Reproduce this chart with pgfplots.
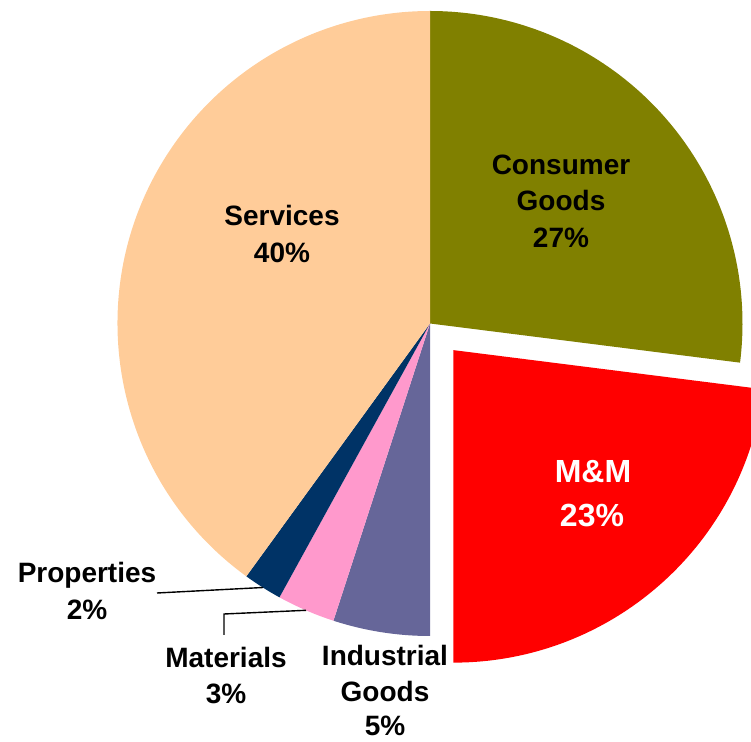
\documentclass[border=0pt]{standalone}
\usepackage{pgfplots}
\pgfplotsset{compat=1.18}
\usepackage{pgfplotstable}
\usepackage{fontspec}
\setmainfont{Liberation Sans}
\definecolor{cgoods}{HTML}{808000}
\definecolor{mm}{HTML}{FF0000}
\definecolor{igoods}{HTML}{666699}
\definecolor{mats}{HTML}{FF99CC}
\definecolor{props}{HTML}{003366}
\definecolor{servs}{HTML}{FFCC99}
\tikzset{
  lbl/.style={inner sep=0pt, outer sep=0pt, anchor=base, font=\fontsize{28}{34}\selectfont\bfseries},
  lblw/.style={inner sep=0pt, outer sep=0pt, anchor=base, text=white, font=\fontsize{32}{38}\selectfont\bfseries},
}
\pgfplotstableread{
name share
Consumer 27
MM 23
Industrial 5
Materials 3
Properties 2
Services 40
}\sharetable
\begin{document}
\begin{tikzpicture}
\pgfplotstablegetelem{0}{share}\of\sharetable \let\sA\pgfplotsretval
\pgfplotstablegetelem{1}{share}\of\sharetable \let\sB\pgfplotsretval
\pgfplotstablegetelem{2}{share}\of\sharetable \let\sC\pgfplotsretval
\pgfplotstablegetelem{3}{share}\of\sharetable \let\sD\pgfplotsretval
\pgfplotstablegetelem{4}{share}\of\sharetable \let\sE\pgfplotsretval
\pgfplotstablegetelem{5}{share}\of\sharetable \let\sF\pgfplotsretval
\pgfmathsetmacro\aA{90}
\pgfmathsetmacro\aB{\aA-3.6*\sA}
\pgfmathsetmacro\aC{\aB-3.6*\sB}
\pgfmathsetmacro\aD{\aC-3.6*\sC}
\pgfmathsetmacro\aE{\aD-3.6*\sD}
\pgfmathsetmacro\aF{\aE-3.6*\sE}
\pgfmathsetmacro\aG{\aF-3.6*\sF}
\pgfmathsetmacro\aMid{(\aB+\aC)/2}
\def\R{312.5pt}
\begin{axis}[
  at={(0,0)}, anchor=south west,
  width=751pt, height=741pt, scale only axis,
  xmin=0, xmax=751, ymin=0, ymax=741,
  hide axis, clip=true,
]
% slices
\fill[cgoods] (axis cs:430,417.5) -- ++(\aA:\R) arc[start angle=\aA, end angle=\aB, radius=\R] -- cycle;
\fill[mm] ([shift={(\aMid:35.5pt)}]axis cs:430,417.5) -- ++(\aB:\R) arc[start angle=\aB, end angle=\aC, radius=\R] -- cycle;
\fill[igoods] (axis cs:430,417.5) -- ++(\aC:\R) arc[start angle=\aC, end angle=\aD, radius=\R] -- cycle;
\fill[mats] (axis cs:430,417.5) -- ++(\aD:\R) arc[start angle=\aD, end angle=\aE, radius=\R] -- cycle;
\fill[props] (axis cs:430,417.5) -- ++(\aE:\R) arc[start angle=\aE, end angle=\aF, radius=\R] -- cycle;
\fill[servs] (axis cs:430,417.5) -- ++(\aF:\R) arc[start angle=\aF, end angle=\aG, radius=\R] -- cycle;
% leader lines
\draw[black, line width=1.4pt] (axis cs:157,148) -- (axis cs:263,153.5);
\draw[black, line width=1.4pt] (axis cs:224,106) -- (axis cs:224,127) -- (axis cs:306,130.7);
% labels
\node[lbl] at (axis cs:561,566) {Consumer};
\node[lbl] at (axis cs:561,530) {Goods};
\node[lbl] at (axis cs:561,493) {27\%};
\node[lbl] at (axis cs:282,515) {Services};
\node[lbl] at (axis cs:282,478) {40\%};
\node[lblw] at (axis cs:593,258) {M\&M};
\node[lblw] at (axis cs:592,214) {23\%};
\node[lbl] at (axis cs:87,158) {Properties};
\node[lbl] at (axis cs:87,121) {2\%};
\node[lbl] at (axis cs:226,74) {Materials};
\node[lbl] at (axis cs:226,38) {3\%};
\node[lbl] at (axis cs:385,75) {Industrial};
\node[lbl] at (axis cs:385,40) {Goods};
\node[lbl, text depth=0pt] at (axis cs:385,6) {5\%};
\end{axis}
\pgfresetboundingbox
\path[use as bounding box] (0,0) rectangle (751pt,741pt);
\end{tikzpicture}
\end{document}
